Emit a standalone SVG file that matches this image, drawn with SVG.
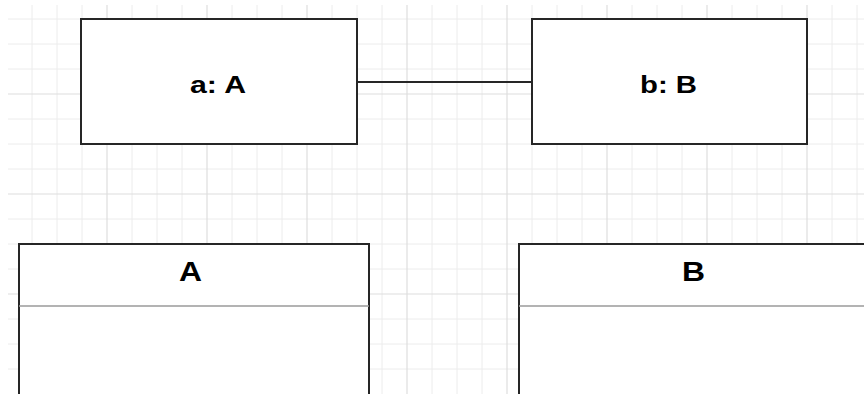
<svg xmlns="http://www.w3.org/2000/svg" width="864" height="394" viewBox="0 0 864 394">
  <style>
    .minor { stroke: #ececec; stroke-width: 1; }
    .major { stroke: #dedede; stroke-width: 1.2; }
    .box { fill: #ffffff; stroke: #262626; stroke-width: 2; }
    .divider { stroke: #9a9a9a; stroke-width: 1.5; }
    .conn { stroke: #262626; stroke-width: 2; fill: none; }
    .lbl { font-family: "Liberation Sans", Arial, sans-serif; font-weight: bold; fill: #000; text-anchor: middle; }
  </style>
  <rect x="0" y="0" width="864" height="394" fill="#ffffff"/>
  <g id="grid">
    <g class="minor">
      <line x1="32" y1="5" x2="32" y2="394"/>
      <line x1="57" y1="5" x2="57" y2="394"/>
      <line x1="82" y1="5" x2="82" y2="394"/>
      <line x1="132" y1="5" x2="132" y2="394"/>
      <line x1="157" y1="5" x2="157" y2="394"/>
      <line x1="182" y1="5" x2="182" y2="394"/>
      <line x1="232" y1="5" x2="232" y2="394"/>
      <line x1="257" y1="5" x2="257" y2="394"/>
      <line x1="282" y1="5" x2="282" y2="394"/>
      <line x1="332" y1="5" x2="332" y2="394"/>
      <line x1="357" y1="5" x2="357" y2="394"/>
      <line x1="382" y1="5" x2="382" y2="394"/>
      <line x1="432" y1="5" x2="432" y2="394"/>
      <line x1="457" y1="5" x2="457" y2="394"/>
      <line x1="482" y1="5" x2="482" y2="394"/>
      <line x1="532" y1="5" x2="532" y2="394"/>
      <line x1="557" y1="5" x2="557" y2="394"/>
      <line x1="582" y1="5" x2="582" y2="394"/>
      <line x1="632" y1="5" x2="632" y2="394"/>
      <line x1="657" y1="5" x2="657" y2="394"/>
      <line x1="682" y1="5" x2="682" y2="394"/>
      <line x1="732" y1="5" x2="732" y2="394"/>
      <line x1="757" y1="5" x2="757" y2="394"/>
      <line x1="782" y1="5" x2="782" y2="394"/>
      <line x1="832" y1="5" x2="832" y2="394"/>
      <line x1="857" y1="5" x2="857" y2="394"/>
      <line x1="8" y1="19" x2="864" y2="19"/>
      <line x1="8" y1="44" x2="864" y2="44"/>
      <line x1="8" y1="69" x2="864" y2="69"/>
      <line x1="8" y1="119" x2="864" y2="119"/>
      <line x1="8" y1="144" x2="864" y2="144"/>
      <line x1="8" y1="169" x2="864" y2="169"/>
      <line x1="8" y1="219" x2="864" y2="219"/>
      <line x1="8" y1="244" x2="864" y2="244"/>
      <line x1="8" y1="269" x2="864" y2="269"/>
      <line x1="8" y1="319" x2="864" y2="319"/>
      <line x1="8" y1="344" x2="864" y2="344"/>
      <line x1="8" y1="369" x2="864" y2="369"/>
    </g>
    <g class="major">
      <line x1="107" y1="5" x2="107" y2="394"/>
      <line x1="207" y1="5" x2="207" y2="394"/>
      <line x1="307" y1="5" x2="307" y2="394"/>
      <line x1="407" y1="5" x2="407" y2="394"/>
      <line x1="507" y1="5" x2="507" y2="394"/>
      <line x1="607" y1="5" x2="607" y2="394"/>
      <line x1="707" y1="5" x2="707" y2="394"/>
      <line x1="807" y1="5" x2="807" y2="394"/>
      <line x1="8" y1="94" x2="864" y2="94"/>
      <line x1="8" y1="194" x2="864" y2="194"/>
      <line x1="8" y1="294" x2="864" y2="294"/>
    </g>
  </g>
  <g id="connectors">
    <line class="conn" x1="357" y1="82" x2="532" y2="82"/>
  </g>
  <g id="node-a">
    <rect class="box" x="81" y="19" width="276" height="125"/>
    <text class="lbl" x="218" y="93" font-size="24" textLength="56" lengthAdjust="spacingAndGlyphs">a: A</text>
  </g>
  <g id="node-b">
    <rect class="box" x="532" y="19" width="275" height="125"/>
    <text class="lbl" x="668.5" y="92.5" font-size="24" textLength="57" lengthAdjust="spacingAndGlyphs">b: B</text>
  </g>
  <g id="class-A">
    <rect class="box" x="19" y="244" width="350" height="160"/>
    <line class="divider" x1="19" y1="306" x2="369" y2="306"/>
    <text class="lbl" x="190.5" y="281" font-size="27" textLength="23" lengthAdjust="spacingAndGlyphs">A</text>
  </g>
  <g id="class-B">
    <rect class="box" x="519" y="244" width="360" height="160"/>
    <line class="divider" x1="519" y1="306" x2="879" y2="306"/>
    <text class="lbl" x="693.5" y="281" font-size="27" textLength="23" lengthAdjust="spacingAndGlyphs">B</text>
  </g>
</svg>
